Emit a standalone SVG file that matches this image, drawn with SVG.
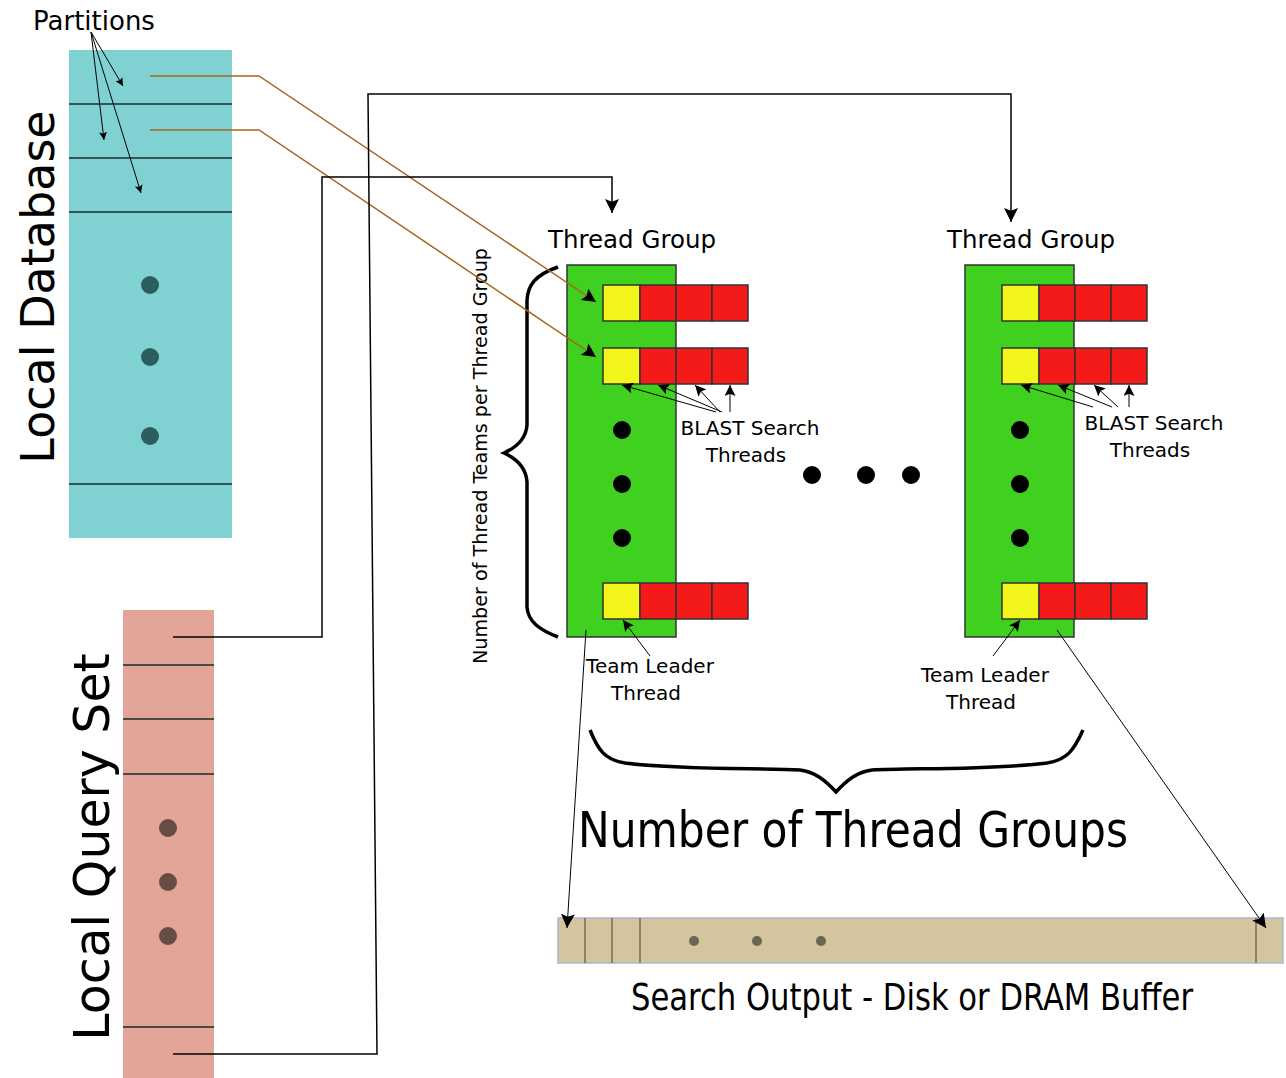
<svg xmlns="http://www.w3.org/2000/svg" width="1286" height="1078" viewBox="0 0 1286 1078">
<defs>
<marker id="ah" viewBox="0 0 10 10" refX="10" refY="5" markerWidth="8" markerHeight="8" markerUnits="userSpaceOnUse" orient="auto">
<path d="M0,0 L10,5 L0,10 L2,5 z" fill="#000"/>
</marker>
<marker id="ahL" viewBox="0 0 10 10" refX="10" refY="5" markerWidth="14" markerHeight="14" markerUnits="userSpaceOnUse" orient="auto">
<path d="M0,0 L10,5 L0,10 L2,5 z" fill="#000"/>
</marker>
<marker id="ahS" viewBox="0 0 10 10" refX="10" refY="5" markerWidth="11" markerHeight="11" markerUnits="userSpaceOnUse" orient="auto">
<path d="M0,0 L10,5 L0,10 L2,5 z" fill="#000"/>
</marker>
</defs>
<style>
text{font-family:"DejaVu Sans",sans-serif;fill:#000}
.cond{font-family:"DejaVu Sans Condensed","DejaVu Sans",sans-serif}
.sep{stroke:#1a2a2a;stroke-width:1.5}
.tg{fill:#3fd020;stroke:#333;stroke-width:1.5}
.y{fill:#f2f51a;stroke:#333;stroke-width:1.5}
.r{fill:#f51a1a;stroke:#333;stroke-width:1.5}
.conn{fill:none;stroke:#000;stroke-width:1.5}
.brn{fill:none;stroke:#a8651c;stroke-width:1.5}
.thin{fill:none;stroke:#000;stroke-width:1}
.brace{fill:none;stroke:#000;stroke-width:3.5}
</style>
<g id="local-database">
<rect x="69" y="50" width="163" height="488" fill="#80d2d2"/>
<line class="sep" x1="69" y1="104" x2="232" y2="104"/>
<line class="sep" x1="69" y1="158" x2="232" y2="158"/>
<line class="sep" x1="69" y1="212" x2="232" y2="212"/>
<line class="sep" x1="69" y1="484" x2="232" y2="484"/>
<circle cx="150" cy="285" r="9" fill="#2c5e5e"/>
<circle cx="150" cy="357" r="9" fill="#2c5e5e"/>
<circle cx="150" cy="436" r="9" fill="#2c5e5e"/>
<text transform="translate(54,287) rotate(-90)" font-size="46" text-anchor="middle">Local Database</text>
</g>
<g id="partitions-label">
<text x="33" y="30" font-size="26">Partitions</text>
</g>
<g id="local-query-set">
<rect x="123" y="610" width="91" height="468" fill="#e2a598"/>
<line class="sep" x1="123" y1="665" x2="214" y2="665"/>
<line class="sep" x1="123" y1="719" x2="214" y2="719"/>
<line class="sep" x1="123" y1="774" x2="214" y2="774"/>
<line class="sep" x1="123" y1="1027" x2="214" y2="1027"/>
<circle cx="168" cy="828" r="9" fill="#664c44"/>
<circle cx="168" cy="882" r="9" fill="#664c44"/>
<circle cx="168" cy="936" r="9" fill="#664c44"/>
<text transform="translate(109,847) rotate(-90)" font-size="49" text-anchor="middle">Local Query Set</text>
</g>
<g id="thread-group-1">
<text x="632" y="248" font-size="24.5" text-anchor="middle">Thread Group</text>
<rect class="tg" x="567" y="265" width="109" height="372"/>
<rect class="y" x="603" y="285" width="37" height="36"/><rect class="r" x="640" y="285" width="36" height="36"/><rect class="r" x="676" y="285" width="36" height="36"/><rect class="r" x="712" y="285" width="36" height="36"/>
<rect class="y" x="603" y="348" width="37" height="36"/><rect class="r" x="640" y="348" width="36" height="36"/><rect class="r" x="676" y="348" width="36" height="36"/><rect class="r" x="712" y="348" width="36" height="36"/>
<rect class="y" x="603" y="583" width="37" height="36"/><rect class="r" x="640" y="583" width="36" height="36"/><rect class="r" x="676" y="583" width="36" height="36"/><rect class="r" x="712" y="583" width="36" height="36"/>
<circle cx="622" cy="430" r="9" fill="#000"/>
<circle cx="622" cy="484" r="9" fill="#000"/>
<circle cx="622" cy="538" r="9" fill="#000"/>
<text x="750" y="435" font-size="20" text-anchor="middle">BLAST Search</text>
<text x="746" y="462" font-size="20" text-anchor="middle">Threads</text>
<text x="650" y="673" font-size="20" text-anchor="middle">Team Leader</text>
<text x="646" y="700" font-size="20" text-anchor="middle">Thread</text>
<text transform="translate(487,456) rotate(-90)" font-size="20" text-anchor="middle" class="cond" textLength="416" lengthAdjust="spacingAndGlyphs">Number of Thread Teams per Thread Group</text>
<path class="brace" d="M558,267 C535,275 528,285 527,300 L527,425 C526,440 515,448 504,453 C515,458 526,466 527,482 L527,607 C528,622 540,630 558,637"/>
</g>
<g id="thread-group-2">
<text x="1031" y="248" font-size="24.5" text-anchor="middle">Thread Group</text>
<rect class="tg" x="965" y="265" width="109" height="372"/>
<rect class="y" x="1002" y="285" width="37" height="36"/><rect class="r" x="1039" y="285" width="36" height="36"/><rect class="r" x="1075" y="285" width="36" height="36"/><rect class="r" x="1111" y="285" width="36" height="36"/>
<rect class="y" x="1002" y="348" width="37" height="36"/><rect class="r" x="1039" y="348" width="36" height="36"/><rect class="r" x="1075" y="348" width="36" height="36"/><rect class="r" x="1111" y="348" width="36" height="36"/>
<rect class="y" x="1002" y="583" width="37" height="36"/><rect class="r" x="1039" y="583" width="36" height="36"/><rect class="r" x="1075" y="583" width="36" height="36"/><rect class="r" x="1111" y="583" width="36" height="36"/>
<circle cx="1020" cy="430" r="9" fill="#000"/>
<circle cx="1020" cy="484" r="9" fill="#000"/>
<circle cx="1020" cy="538" r="9" fill="#000"/>
<text x="1154" y="430" font-size="20" text-anchor="middle">BLAST Search</text>
<text x="1150" y="457" font-size="20" text-anchor="middle">Threads</text>
<text x="985" y="682" font-size="20" text-anchor="middle">Team Leader</text>
<text x="981" y="709" font-size="20" text-anchor="middle">Thread</text>
</g>
<g id="more-groups">
<circle cx="812" cy="475" r="9" fill="#000"/>
<circle cx="866" cy="475" r="9" fill="#000"/>
<circle cx="911" cy="475" r="9" fill="#000"/>
</g>
<g id="thread-groups-brace">
<path class="brace" d="M590,730 C598,750 605,760 625,763 C680,770 760,768 800,770 C815,772 825,780 836,792 C847,780 857,772 872,770 C912,768 992,770 1047,763 C1067,760 1074,750 1083,730"/>
<text x="853" y="847" font-size="50" text-anchor="middle" class="cond" textLength="550" lengthAdjust="spacingAndGlyphs">Number of Thread Groups</text>
</g>
<g id="search-output">
<rect x="558" y="918" width="725" height="45" fill="#d4c59e" stroke="#a9b9c9" stroke-width="1.5"/>
<line x1="585" y1="918" x2="585" y2="963" stroke="#4a4030" stroke-width="1"/>
<line x1="612" y1="918" x2="612" y2="963" stroke="#4a4030" stroke-width="1"/>
<line x1="640" y1="918" x2="640" y2="963" stroke="#4a4030" stroke-width="1"/>
<line x1="1256" y1="918" x2="1256" y2="963" stroke="#4a4030" stroke-width="1"/>
<circle cx="694" cy="941" r="5" fill="#6b6555"/>
<circle cx="757" cy="941" r="5" fill="#6b6555"/>
<circle cx="821" cy="941" r="5" fill="#6b6555"/>
<text x="912" y="1010" font-size="38" text-anchor="middle" class="cond" textLength="562" lengthAdjust="spacingAndGlyphs">Search Output - Disk or DRAM Buffer</text>
</g>
<g id="connectors">
<line class="thin" x1="91" y1="32" x2="123" y2="86" marker-end="url(#ah)"/>
<line class="thin" x1="91" y1="32" x2="104" y2="140" marker-end="url(#ah)"/>
<line class="thin" x1="91" y1="32" x2="141" y2="193" marker-end="url(#ah)"/>
<polyline class="brn" points="150,76 259,76 596,302" marker-end="url(#ahL)"/>
<polyline class="brn" points="150,130 259,130 596,357" marker-end="url(#ahL)"/>
<polyline class="conn" points="173,637 322,637 322,177 612,177 612,213" marker-end="url(#ahL)"/>
<polyline class="conn" points="173,1054 377,1054 368,94 1011,94 1011,222" marker-end="url(#ahL)"/>
<line class="thin" x1="716" y1="412" x2="622" y2="385" marker-end="url(#ahS)"/>
<line class="thin" x1="722" y1="412" x2="658" y2="385" marker-end="url(#ahS)"/>
<line class="thin" x1="720" y1="412" x2="695" y2="385" marker-end="url(#ahS)"/>
<line class="thin" x1="730" y1="412" x2="730" y2="385" marker-end="url(#ahS)"/>
<line class="thin" x1="1093" y1="407" x2="1021" y2="385" marker-end="url(#ahS)"/>
<line class="thin" x1="1112" y1="407" x2="1058" y2="385" marker-end="url(#ahS)"/>
<line class="thin" x1="1118" y1="407" x2="1094" y2="385" marker-end="url(#ahS)"/>
<line class="thin" x1="1129" y1="407" x2="1129" y2="385" marker-end="url(#ahS)"/>
<line class="thin" x1="650" y1="656" x2="623" y2="620" marker-end="url(#ahS)"/>
<line class="thin" x1="993" y1="656" x2="1020" y2="620" marker-end="url(#ahS)"/>
<line class="thin" x1="586" y1="630" x2="567" y2="928" marker-end="url(#ahL)"/>
<line class="thin" x1="1057" y1="630" x2="1266" y2="928" marker-end="url(#ahL)"/>
</g>
</svg>
